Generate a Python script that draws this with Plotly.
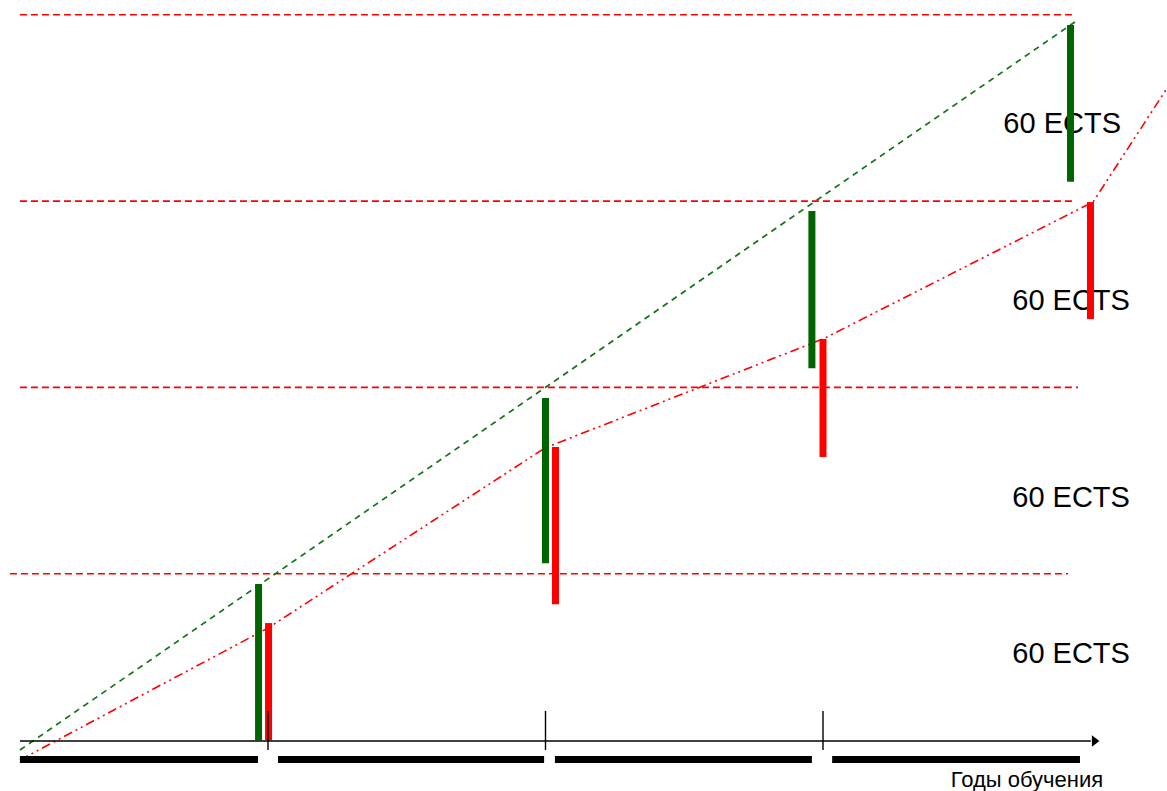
import plotly.graph_objects as go

# Coordinate system: x = years of study, y = accumulated ECTS credits
level_ects = [60, 120, 180, 240]
level_start = [0.070, 0.106, 0.106, 0.106]
level_end = [3.883, 3.919, 3.908, 3.908]

full_line_year = [0.106, 3.908]
full_line_ects = [3.2, 237.7]

actual_line_year = [0.106, 1.0, 1.998, 3.0, 3.973, 4.24]
actual_line_ects = [0.0, 42.5, 100.5, 135.6, 179.7, 216.4]

green_year = [0.966, 2.0, 2.960, 3.892]
green_low = [6.4, 63.4, 126.2, 186.2]
green_high = [56.7, 116.6, 176.8, 236.7]

red_year = [1.002, 2.036, 3.0, 3.964]
red_low = [6.4, 50.2, 97.6, 142.0]
red_high = [44.1, 100.8, 135.6, 179.7]

label_year = [3.894, 3.894, 3.894, 3.862]
label_ects = [33.6, 83.8, 147.2, 204.3]
label_text = ["60 ECTS", "60 ECTS", "60 ECTS", "60 ECTS"]

axis_year = [0.106, 3.965]
axis_ects = 6.1
arrow_year = 3.978

tick_year = [1.0, 2.0, 3.0]
tick_low, tick_high = 3.2, 15.8

period_start = [0.106, 1.036, 2.034, 3.033]
period_end = [0.964, 1.995, 2.960, 3.926]
period_ects = 0.16

axis_title = "Годы обучения"
axis_title_pos = (3.735, -6.9)

RED = "#FF0000"
GREEN = "#006400"


def segments(xs0, xs1, ys0, ys1):
    X, Y = [], []
    for a, b, c, d in zip(xs0, xs1, ys0, ys1):
        X += [a, b, None]
        Y += [c, d, None]
    return X, Y


fig = go.Figure()

# horizontal level lines
X, Y = segments(level_start, level_end, level_ects, level_ects)
fig.add_trace(go.Scatter(x=X, y=Y, mode="lines",
                         line=dict(color=RED, width=1.6, dash="7px,4px")))

# full-pace line
fig.add_trace(go.Scatter(x=full_line_year, y=full_line_ects, mode="lines",
                         line=dict(color="#147314", width=1.7, dash="6px,5px")))

# actual progress line
fig.add_trace(go.Scatter(x=actual_line_year, y=actual_line_ects, mode="lines",
                         line=dict(color=RED, width=1.6,
                                   dash="9px,4px,2px,4px,2px,4px")))

# labels (beneath the bars)
fig.add_trace(go.Scatter(x=label_year, y=label_ects, mode="text",
                         text=label_text, textposition="middle center",
                         textfont=dict(family="Liberation Sans, Arial", size=29,
                                       color="black")))

# green bars
X, Y = segments(green_year, green_year, green_low, green_high)
fig.add_trace(go.Scatter(x=X, y=Y, mode="lines",
                         line=dict(color=GREEN, width=7)))

# red bars
X, Y = segments(red_year, red_year, red_low, red_high)
fig.add_trace(go.Scatter(x=X, y=Y, mode="lines",
                         line=dict(color=RED, width=7)))

# time axis
fig.add_trace(go.Scatter(x=axis_year, y=[axis_ects, axis_ects], mode="lines",
                         line=dict(color="black", width=1.6)))
fig.add_trace(go.Scatter(x=[arrow_year], y=[axis_ects], mode="markers",
                         marker=dict(symbol="triangle-right", size=10,
                                     color="black", line=dict(width=0))))

# tick marks
X, Y = segments(tick_year, tick_year, [tick_low] * 3, [tick_high] * 3)
fig.add_trace(go.Scatter(x=X, y=Y, mode="lines",
                         line=dict(color="black", width=1.4)))

# year periods
X, Y = segments(period_start, period_end, [period_ects] * 4, [period_ects] * 4)
fig.add_trace(go.Scatter(x=X, y=Y, mode="lines",
                         line=dict(color="black", width=7)))

# axis title
fig.add_trace(go.Scatter(x=[axis_title_pos[0]], y=[axis_title_pos[1]],
                         mode="text", text=[axis_title],
                         textposition="middle center",
                         textfont=dict(family="Liberation Sans, Arial", size=22,
                                       color="black")))

fig.update_layout(
    width=1167, height=791,
    margin=dict(l=0, r=0, t=0, b=0),
    paper_bgcolor="white", plot_bgcolor="white",
    showlegend=False,
    xaxis=dict(range=[9.5 / 277.5, (1167 + 9.5) / 277.5], visible=False,
               fixedrange=True),
    yaxis=dict(range=[(760 - 791) / 3.105, 760 / 3.105], visible=False,
               fixedrange=True),
)

fig.write_html("out.html", config={"displayModeBar": False},
               post_script="document.body.style.margin='0';"
                           "document.body.style.overflow='hidden';")
